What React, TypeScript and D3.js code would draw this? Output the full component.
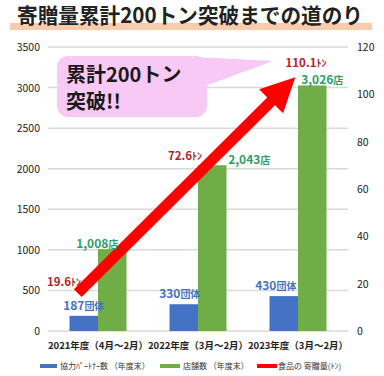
import React from "react";
import * as d3 from "d3";

const categories = ["2021年度（4月～2月）", "2022年度（3月～2月）", "2023年度（3月～2月）"];
const partners = [187, 330, 430];
const stores = [1008, 2043, 3026];
const tons = [19.6, 72.6, 110.1];
const partnerLabels = ["187", "330", "430"];
const storeLabels = ["1,008", "2,043", "3,026"];
const tonLabels = ["19.6", "72.6", "110.1"];
const leftTicks = [0, 500, 1000, 1500, 2000, 2500, 3000, 3500];
const rightTicks = [0, 20, 40, 60, 80, 100, 120];
const legendItems = ["協力ﾊﾟｰﾄﾅｰ数 （年度末）", "店舗数 （年度末）", "食品の 寄贈量(ﾄﾝ)"];

// layout-only offsets for hand-placed labels
const storeLabelDx = [-15, 37, 10];
const tonLabelDx = [-34, -13, 8];
const tonLabelDy = [1, 1, -3];
const partnerLabelDx = [0, -4, -8];

const FONT = "'Noto Sans CJK JP', 'Noto Sans', sans-serif";
const BLUE = "#4472C4";
const GREEN = "#70AD47";
const RED = "#FF0000";

export default function App() {
  const W = 384, H = 376;
  const x0 = 48, x1 = 348, yTop = 47, yBot = 331;
  const x = d3.scaleBand<string>().domain(categories).range([x0, x1]).padding(0);
  const yL = d3.scaleLinear().domain([0, 3500]).range([yBot, yTop]);
  const yR = d3.scaleLinear().domain([0, 120]).range([yBot, yTop]);
  const barW = 28.5;
  const cx = (i: number) => (x(categories[i]) as number) + x.bandwidth() / 2;

  // Arrow from first to last ton value
  const p0: [number, number] = [cx(0), yR(tons[0])];
  const p2: [number, number] = [cx(2), yR(tons[2])];
  const dx = p2[0] - p0[0], dy = p2[1] - p0[1];
  const len = Math.hypot(dx, dy);
  const ux = dx / len, uy = dy / len;
  const nx = -uy, ny = ux;
  const start: [number, number] = [p0[0] - ux * 20 - nx * 9, p0[1] - uy * 20 - ny * 9];
  const tip: [number, number] = [p2[0] - ux * 4, p2[1] - uy * 4 + 4];
  const sdx = tip[0] - start[0], sdy = tip[1] - start[1];
  const slen = Math.hypot(sdx, sdy);
  const vx = sdx / slen, vy = sdy / slen;
  const mx = -vy, my = vx;
  const headLen = 34, headHalf = 17, shaftHalf = 5.5;
  const base: [number, number] = [tip[0] - vx * headLen, tip[1] - vy * headLen];
  const arrowPts: [number, number][] = [
    [start[0] + mx * shaftHalf, start[1] + my * shaftHalf],
    [base[0] + mx * shaftHalf, base[1] + my * shaftHalf],
    [base[0] + mx * headHalf, base[1] + my * headHalf],
    tip,
    [base[0] - mx * headHalf, base[1] - my * headHalf],
    [base[0] - mx * shaftHalf, base[1] - my * shaftHalf],
    [start[0] - mx * shaftHalf, start[1] - my * shaftHalf],
  ];
  const arrowPath = d3.line()(arrowPts) + "Z";

  return (
    <svg width={W} height={H} style={{ position: "absolute", left: 0, top: 0, background: "#fff" }} fontFamily={FONT}>
      <rect x={0} y={0} width={W} height={H} fill="#fff" />
      {/* Title */}
      <rect x={10} y={23} width={362} height={7} fill="#F8CBAD" />
      <text x={190} y={23} textAnchor="middle" fontSize={21} fontWeight="bold" fill="#222" textLength={346} lengthAdjust="spacingAndGlyphs">
        寄贈量累計200トン突破までの道のり
      </text>

      {/* Gridlines */}
      {leftTicks.map((t) => (
        <line key={t} x1={x0} x2={x1} y1={yL(t)} y2={yL(t)} stroke="#D9D9D9" strokeWidth={1.5} />
      ))}
      {leftTicks.map((t) => (
        <text key={"l" + t} x={40} y={yL(t) + 4} textAnchor="end" fontSize={10.5} fill="#222">{t}</text>
      ))}
      {rightTicks.map((t) => (
        <text key={"r" + t} x={357} y={yR(t) + 4} textAnchor="start" fontSize={10.5} fill="#222">{t}</text>
      ))}

      {/* Bars */}
      {categories.map((c, i) => (
        <g key={c}>
          <rect x={cx(i) - barW} y={yL(partners[i])} width={barW} height={yBot - yL(partners[i])} fill={BLUE} />
          <rect x={cx(i)} y={yL(stores[i])} width={barW} height={yBot - yL(stores[i])} fill={GREEN} />
        </g>
      ))}

      {/* Category labels */}
      {categories.map((c, i) => (
        <text key={"c" + i} x={cx(i)} y={349} textAnchor="middle" fontSize={9.5} fontWeight="bold" fill="#222">{c}</text>
      ))}

      {/* Callout bubble */}
      <path d="M195,57 L273,61 L205,86 Z" fill="#F8C9F4" />
      <rect x={57} y={56} width={150} height={61} rx={11} fill="#F8C9F4" />
      <text x={66} y={82} fontSize={20} fontWeight="bold" fill="#1a1a1a">累計200トン</text>
      <text x={66} y={109} fontSize={20} fontWeight="bold" fill="#1a1a1a">突破!!</text>

      {/* Arrow (food donation line) */}
      <path d={arrowPath} fill={RED} />

      {/* Value labels */}
      {categories.map((c, i) => (
        <g key={"v" + i} fontWeight="bold">
          <text x={cx(i) - barW / 2 + partnerLabelDx[i]} y={yL(partners[i]) - 6} textAnchor="middle" fill={BLUE} fontSize={12}>
            {partnerLabels[i]}<tspan fontSize={10}>団体</tspan>
          </text>
          <text x={cx(i) + barW / 2 + storeLabelDx[i]} y={yL(stores[i]) - 1} textAnchor="middle" fill="#2E9E68" fontSize={12}>
            {storeLabels[i]}<tspan fontSize={10}>店</tspan>
          </text>
          <text x={cx(i) + tonLabelDx[i]} y={yR(tons[i]) + tonLabelDy[i]} textAnchor="middle" fill="#B3232B" fontSize={11.5}>
            {tonLabels[i]}<tspan fontSize={10}>ﾄﾝ</tspan>
          </text>
        </g>
      ))}

      {/* Legend */}
      <rect x={40} y={364} width={17} height={4} fill={BLUE} />
      <text x={60} y={369} fontSize={8} fill="#333">{legendItems[0]}</text>
      <rect x={160} y={364} width={20} height={4} fill={GREEN} />
      <text x={183} y={369} fontSize={8} fill="#333">{legendItems[1]}</text>
      <rect x={257} y={364} width={20} height={4} fill={RED} />
      <text x={278} y={369} fontSize={8} fill="#333">{legendItems[2]}</text>
    </svg>
  );
}
